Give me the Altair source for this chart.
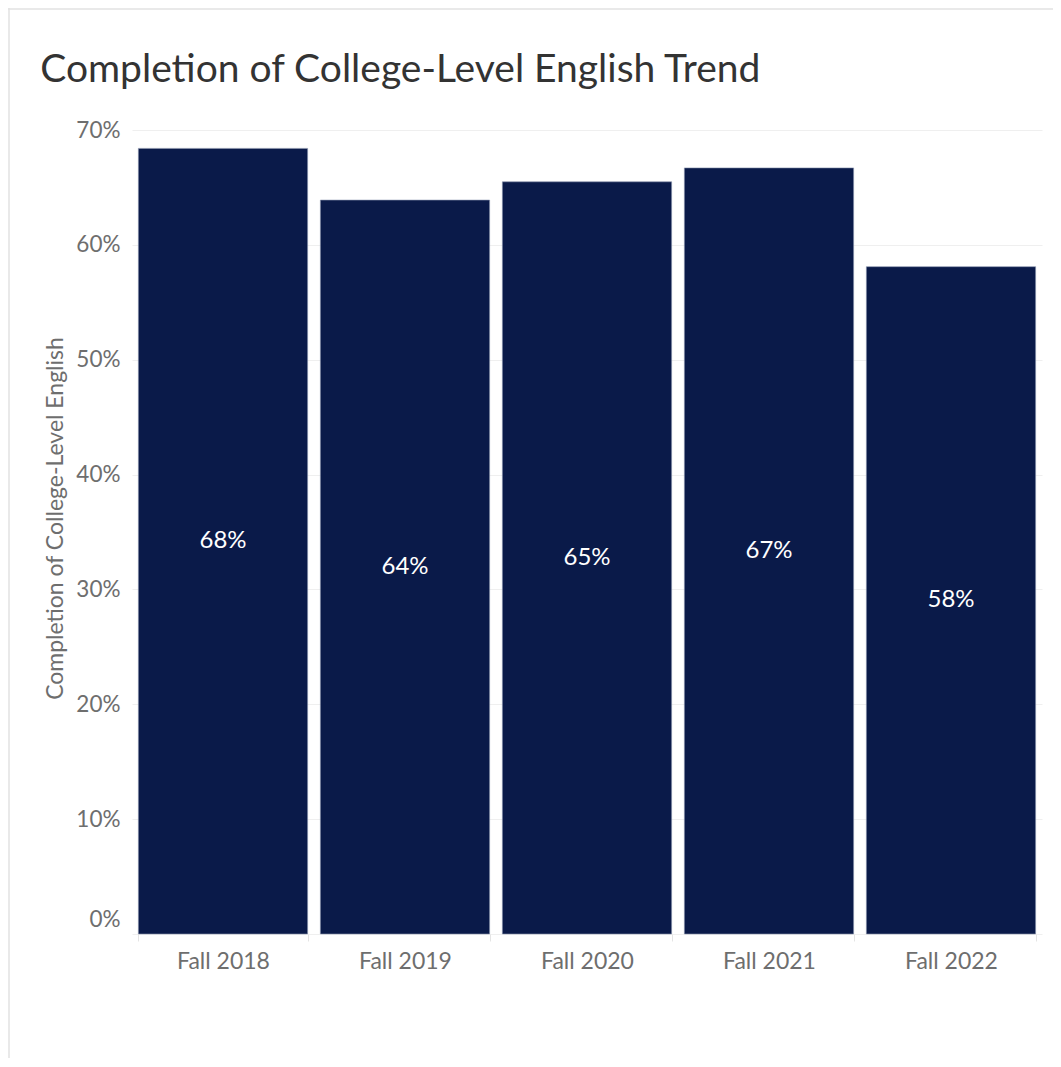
import altair as alt
import pandas as pd

terms = ["Fall 2018", "Fall 2019", "Fall 2020", "Fall 2021", "Fall 2022"]
rates = [0.684, 0.639, 0.6549, 0.667, 0.581]
y_ticks = [0, 0.1, 0.2, 0.3, 0.4, 0.5, 0.6, 0.7]

df = pd.DataFrame({"term": terms, "rate": rates})

FONT = "Lato"
GRAY = "#6e6e6e"
YTITLE = "Completion of College-Level English"

x_enc = alt.X(
    "term:N",
    sort=terms,
    scale=alt.Scale(paddingInner=0.07, paddingOuter=0.035),
    axis=alt.Axis(
        title=None, labelAngle=0, domain=False, tickBand="extent",
        tickColor="#e4e4e4", tickSize=7,
        labelColor=GRAY, labelFontSize=23, labelPadding=9, labelFont=FONT,
    ),
)

y_axis = alt.Axis(
    title=YTITLE,
    titleFont=FONT, titleFontSize=23, titleColor=GRAY, titleFontWeight="normal",
    titlePadding=8, titleY=388,
    values=y_ticks, format=".0%", domain=False, ticks=False,
    gridColor="#efefef", gridWidth=1,
    labelColor=GRAY, labelFontSize=22.5, labelFont=FONT, labelPadding=12,
    labelOffset={"condition": {"test": "datum.value === 0", "value": -15}, "value": 0},
)

bars = alt.Chart(df).mark_bar(color="#0a1a49", stroke="#8a93ad", strokeWidth=0.6).encode(
    x=x_enc,
    y=alt.Y("rate:Q", scale=alt.Scale(domain=[0, 0.7], nice=False, zero=True), axis=y_axis),
)

labels = alt.Chart(df).transform_calculate(mid="datum.rate / 2").mark_text(
    color="white", fontSize=24, font=FONT
).encode(
    x=alt.X("term:N", sort=terms),
    y=alt.Y("mid:Q", title=YTITLE),
    text=alt.Text("rate:Q", format=".0%"),
)

frame_top = alt.Chart(pd.DataFrame({"k": [0]})).mark_rule(color="#e2e2e2", strokeWidth=1.5).encode(
    x=alt.value(-124), x2=alt.value(930), y=alt.value(-121)
)
frame_left = alt.Chart(pd.DataFrame({"k": [0]})).mark_rule(color="#e2e2e2", strokeWidth=1.5).encode(
    x=alt.value(-123), y=alt.value(-122), y2=alt.value(935)
)

chart = alt.layer(frame_top, frame_left, bars, labels).properties(
    width=910,
    height=804,
    autosize=alt.AutoSizeParams(type="none"),
    padding={"left": 124, "top": 122, "right": 11, "bottom": 124},
    title=alt.TitleParams(
        "Completion of College-Level English Trend",
        anchor="start", font=FONT, fontSize=39, fontWeight="normal",
        color="#333333", dx=33, offset=-114, baseline="alphabetic",
    ),
    background="white",
).configure_view(stroke=None)

chart.save("out.html", embed_options={"renderer": "svg", "actions": False})
